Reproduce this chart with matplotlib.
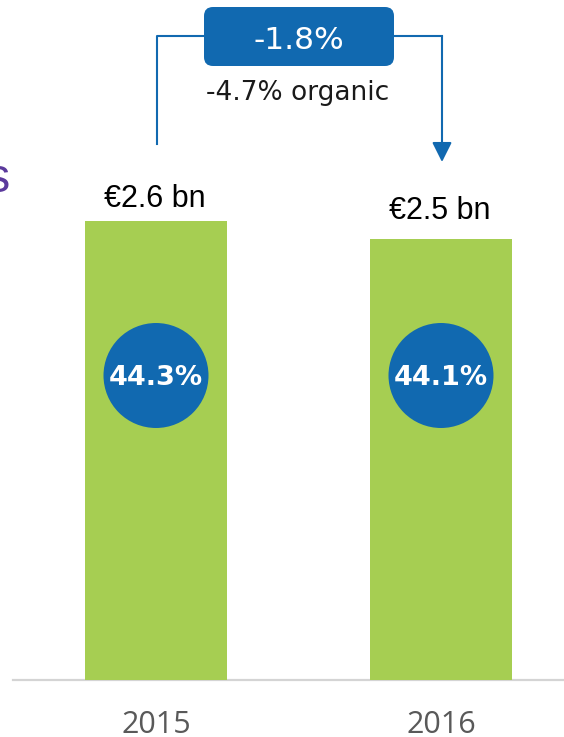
import matplotlib
matplotlib.use("Agg")
import matplotlib.pyplot as plt
from matplotlib.patches import FancyBboxPatch, FancyArrowPatch, Ellipse
from matplotlib.lines import Line2D
from matplotlib.transforms import Affine2D, blended_transform_factory

# data
years = ["2015", "2016"]
sales = [2.6, 2.5]
sales_labels = ["€2.6 bn", "€2.5 bn"]
margins = ["44.3%", "44.1%"]
change_label = "-1.8%"
organic_label = "-4.7% organic"

GREEN = "#A6CE52"
BLUE = "#1169B0"
W, H = 564, 737

fig = plt.figure(figsize=(W / 100, H / 100), dpi=100)
ax = fig.add_axes([0, 0, 1, 1])
ax.set_axis_off()

# pixel-space transform (origin top-left) for the annotation pieces
px = Affine2D().scale(1 / W, -1 / H).translate(0, 1) + fig.transFigure

x = list(range(len(years)))
ax.bar(x, sales, width=0.5, color=GREEN, zorder=2)
ax.set_xlim(-156 / 285, (W - 156) / 285)
ax.set_ylim(-(H - 680) / 176.6, 680 / 176.6)

# baseline
ax.axhline(0, xmin=13 / W, xmax=1, color="#D4D4D4", lw=1.6, zorder=1)

# margin circles inside the bars
circle_y = (680 - 375.5) / 176.6
for i, m in enumerate(margins):
    ax.add_patch(Ellipse((i, circle_y), 105 / 285, 105 / 176.6,
                         color=BLUE, zorder=3, lw=0))
    ax.annotate(m, (i, circle_y), xytext=(0, -6.5), textcoords="offset points",
                ha="center", va="baseline", color="white", fontsize=19.5,
                fontweight="bold", family="DejaVu Sans", zorder=4)

# value labels above bars
label_pad = [10, 14]
for i, (v, lab) in enumerate(zip(sales, sales_labels)):
    ax.annotate(lab, (i, v), xytext=(-1, label_pad[i]), textcoords="offset points",
                ha="center", va="baseline", fontsize=22,
                family="Liberation Sans", color="black")

# year labels
yr_tr = blended_transform_factory(ax.transData, px)
for i, yr in enumerate(years):
    ax.text(i, 733, yr, transform=yr_tr, ha="center", va="baseline",
            fontsize=22, family="Open Sans", color="#595959")

# change box with connectors
fig.patches.append(FancyBboxPatch((204, 7), 190, 59,
                                  boxstyle="round,pad=0,rounding_size=9",
                                  transform=px, facecolor=BLUE, edgecolor="none"))
fig.text(299, 49, change_label, transform=px, ha="center", va="baseline",
         color="white", fontsize=22.5, family="DejaVu Sans")
fig.text(297.5, 100, organic_label, transform=px, ha="center", va="baseline",
         color="#1a1a1a", fontsize=19, family="DejaVu Sans")

fig.lines.append(Line2D([157, 157, 204], [144, 36, 36], transform=px,
                        color=BLUE, lw=1.5))
fig.lines.append(Line2D([394, 442], [36, 36], transform=px, color=BLUE, lw=1.5))
fig.patches.append(FancyArrowPatch((442, 36), (442, 162), transform=px,
                                   arrowstyle="-|>,head_length=1.2,head_width=0.6",
                                   mutation_scale=10, color=BLUE, lw=1.5,
                                   shrinkA=0, shrinkB=0))

# cut-off title fragment at the left edge
fig.text(10, 192, "s", transform=px, ha="right", va="baseline",
         fontsize=35, family="Liberation Sans", color="#5B3A9C")

fig.savefig("out.png", dpi=100)
